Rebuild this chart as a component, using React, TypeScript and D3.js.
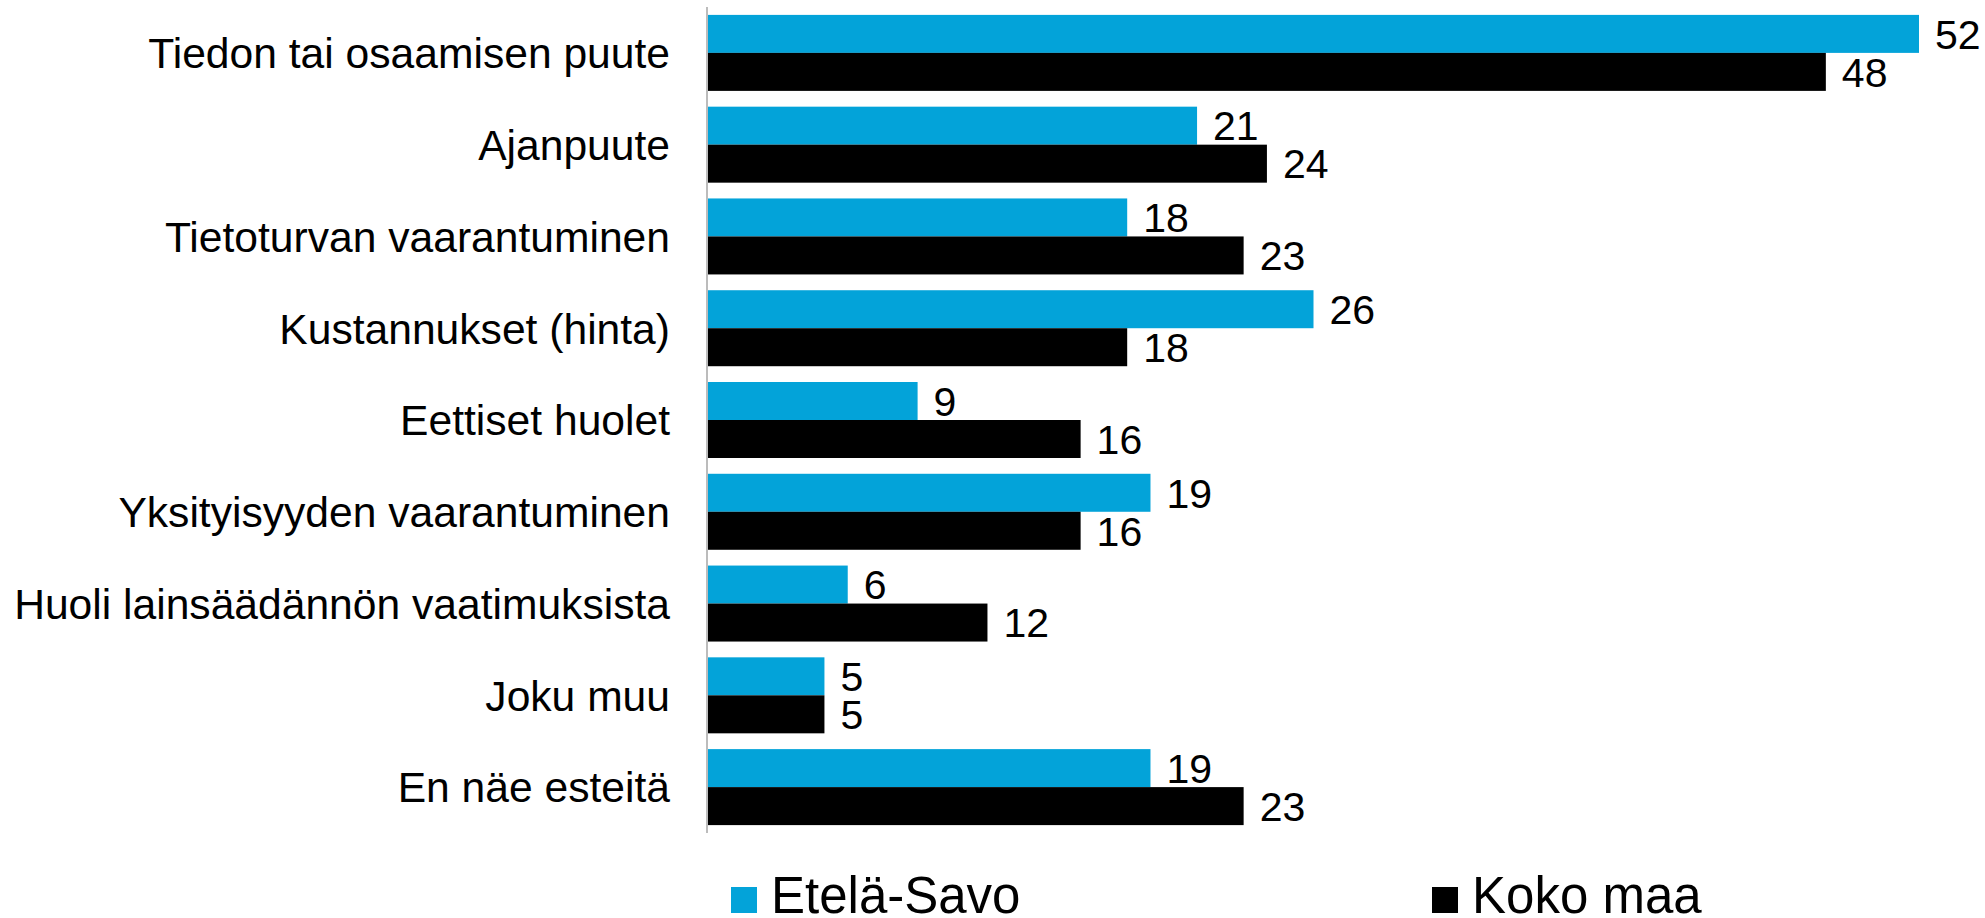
import React from 'react';
import * as d3 from 'd3';

const categories = [
  'Tiedon tai osaamisen puute',
  'Ajanpuute',
  'Tietoturvan vaarantuminen',
  'Kustannukset (hinta)',
  'Eettiset huolet',
  'Yksityisyyden vaarantuminen',
  'Huoli lainsäädännön vaatimuksista',
  'Joku muu',
  'En näe esteitä',
];

const etelaSavo = [52, 21, 18, 26, 9, 19, 6, 5, 19];
const kokoMaa = [48, 24, 23, 18, 16, 16, 12, 5, 23];

const seriesNames = ['Etelä-Savo', 'Koko maa'];
const seriesColors = ['#03A3D9', '#000000'];

const width = 1985;
const height = 918;
const font = "'Liberation Sans', Arial, sans-serif";

const App: React.FC = () => {
  const svgRef = React.useRef<SVGSVGElement>(null);

  React.useEffect(() => {
    if (!svgRef.current) return;
    d3.select(svgRef.current).selectAll('*').remove();
    const svg = d3.select(svgRef.current);

    const x0 = 708;
    const x = d3.scaleLinear().domain([0, 52]).range([x0, 1919]);

    const y = d3.scaleBand<string>()
      .domain(categories)
      .range([7, 833])
      .paddingInner(0.172)
      .paddingOuter(0.086);

    const y1 = d3.scaleBand<string>()
      .domain(seriesNames)
      .range([0, y.bandwidth()]);

    const rows = categories.map((c, i) => ({
      name: c,
      values: [etelaSavo[i], kokoMaa[i]],
    }));

    const g = svg.append('g');

    const row = g.selectAll('g.row')
      .data(rows)
      .enter().append('g')
      .attr('class', 'row')
      .attr('transform', d => `translate(0,${y(d.name) || 0})`);

    seriesNames.forEach((s, si) => {
      row.append('rect')
        .attr('x', x(0))
        .attr('y', y1(s) || 0)
        .attr('width', d => x(d.values[si]) - x(0))
        .attr('height', y1.bandwidth())
        .attr('fill', seriesColors[si]);

      row.append('text')
        .attr('x', d => x(d.values[si]) + 16)
        .attr('y', (y1(s) || 0) + y1.bandwidth() / 2)
        .attr('dy', '0.36em')
        .attr('font-family', font)
        .attr('font-size', 41)
        .attr('fill', '#000')
        .text(d => d.values[si]);
    });

    // category labels
    row.append('text')
      .attr('x', 670)
      .attr('y', y.bandwidth() / 2)
      .attr('dy', '0.36em')
      .attr('text-anchor', 'end')
      .attr('font-family', font)
      .attr('font-size', 42.6)
      .attr('fill', '#000')
      .text(d => d.name);

    // axis line
    svg.append('line')
      .attr('x1', x0 - 1)
      .attr('x2', x0 - 1)
      .attr('y1', 7)
      .attr('y2', 833)
      .attr('stroke', '#A6A6A6')
      .attr('stroke-width', 1.5);

    // legend
    const legendX = [731, 1432];
    const legend = svg.append('g')
      .selectAll('g')
      .data(seriesNames)
      .enter().append('g')
      .attr('transform', (d, i) => `translate(${legendX[i]},913)`);

    legend.append('rect')
      .attr('x', 0)
      .attr('y', -26)
      .attr('width', 26)
      .attr('height', 26)
      .attr('fill', (d, i) => seriesColors[i]);

    legend.append('text')
      .attr('x', 40)
      .attr('y', 0)
      .attr('font-family', font)
      .attr('font-size', 51)
      .attr('fill', '#000')
      .text(d => d);
  }, []);

  return (
    <svg
      ref={svgRef}
      width={width}
      height={height}
      viewBox={`0 0 ${width} ${height}`}
      style={{ position: 'absolute', left: 0, top: 0, background: '#fff' }}
    />
  );
};

export default App;
